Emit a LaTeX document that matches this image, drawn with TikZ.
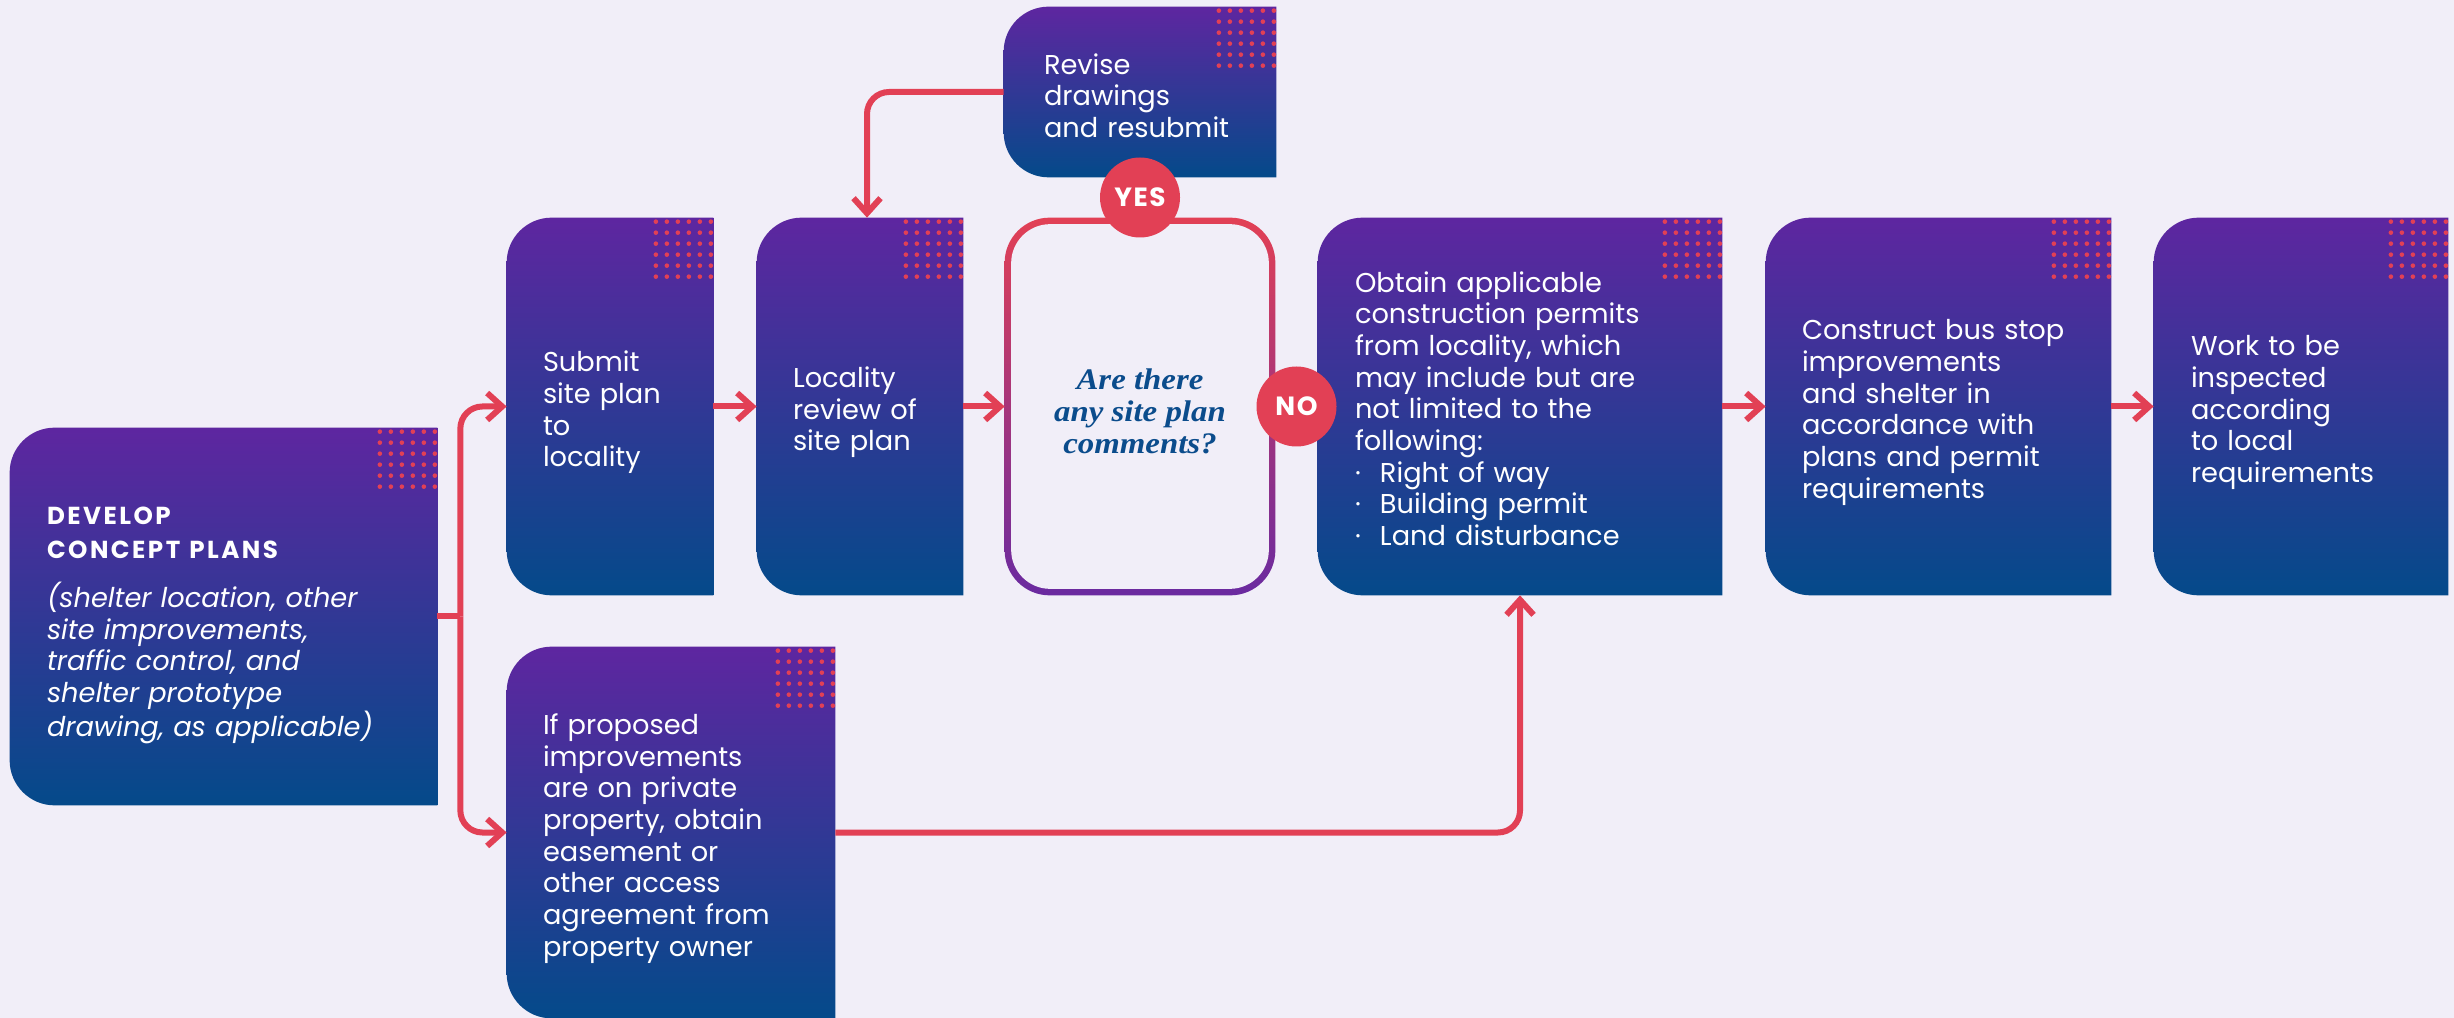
\documentclass[tikz,border=0pt]{standalone}
\usepackage{fontspec}
\setmainfont{Poppins}
\newfontfamily\qfont[FakeStretch=1.1]{Liberation Serif}
\usetikzlibrary{arrows.meta, positioning, calc, backgrounds}

\definecolor{pagebg}{HTML}{F1EEF8}
\definecolor{topviolet}{HTML}{5E26A0}
\definecolor{bottomblue}{HTML}{044A8A}
\definecolor{flowred}{HTML}{E24055}
\definecolor{qblue}{HTML}{0B4C8C}
\definecolor{rimviolet}{HTML}{6A2AA0}

% one pixel of the layout
\newcommand{\pix}{0.2mm}

\tikzstyle{stepbox} = [rectangle, inner sep=0pt]
\tikzstyle{steptext} = [anchor=west, yshift=-1.2mm, inner sep=0pt, align=left, text=white, font=\fontsize{15.5}{18}\selectfont]
\tikzstyle{decision} = [rectangle, inner sep=0pt]
\tikzstyle{decisiontext} = [inner sep=0pt, align=center, text=qblue, font=\qfont\bfseries\itshape\fontsize{17}{18.2}\selectfont]
\tikzstyle{badge} = [circle, fill=flowred, text=white, minimum size=16mm, inner sep=0pt, font=\bfseries\addfontfeature{LetterSpace=6}\fontsize{15}{16}\selectfont]
\tikzstyle{redline} = [draw=flowred, line width=1.2mm]
\tikzstyle{connector} = [redline, -{Straight Barb[length=3mm, width=5.4mm]}]

% gradient card with rounded left side and dotted corner
\newcommand{\stepfill}[1]{%
  \shade[top color=topviolet, bottom color=bottomblue]
    (#1.north east) -- ([xshift=9mm]#1.north west)
    arc[start angle=90, end angle=180, radius=9mm]
    -- ([yshift=9mm]#1.south west)
    arc[start angle=180, end angle=270, radius=9mm]
    -- (#1.south east) -- cycle;
  \foreach \i in {0,...,5}
    \foreach \j in {0,...,5}
      \fill[flowred] ([xshift=-2.5*\pix-11*\i*\pix, yshift=-4*\pix-11*\j*\pix]#1.north east) circle[radius=2.3*\pix];
}
\newcommand{\bul}{\makebox[5mm][l]{\textperiodcentered}}

\begin{document}
\begin{tikzpicture}[x=0.2mm, y=-0.2mm]

  \useasboundingbox (0,0) rectangle (2454,1018);

  % Cards
  \node (develop) at (223.5,616.5) [stepbox, minimum width=427*\pix, minimum height=377*\pix] {};
  \node (submit) at (610,406.5) [stepbox, minimum width=206*\pix, minimum height=377*\pix] {};
  \node (review) at (860,406.5) [stepbox, minimum width=206*\pix, minimum height=377*\pix] {};
  \node (revise) at (1140,92) [stepbox, minimum width=272*\pix, minimum height=170*\pix] {};
  \node (question) at (1140,406.5) [decision, minimum width=270*\pix, minimum height=377*\pix] {};
  \node (obtain) at (1520,406.5) [stepbox, minimum width=404*\pix, minimum height=377*\pix] {};
  \node (build) at (1938.5,406.5) [stepbox, minimum width=345*\pix, minimum height=377*\pix] {};
  \node (inspect) at (2301,406.5) [stepbox, minimum width=294*\pix, minimum height=377*\pix] {};
  \node (easement) at (671,832.5) [stepbox, minimum width=328*\pix, minimum height=371*\pix] {};

  % Card texts
  \node (developtext) at ([xshift=37*\pix]develop.west) [steptext, yshift=-0.6mm, text width=380*\pix]
    {{\bfseries\addfontfeature{LetterSpace=10}\fontsize{14}{19.3}\selectfont DEVELOP\\CONCEPT PLANS\par}
     \vspace{10pt}
     {\itshape (shelter location, other\\site improvements,\\traffic control, and\\shelter prototype\\drawing, as applicable)\par}};
  \node (submittext) at ([xshift=36*\pix]submit.west) [steptext, text width=166*\pix] {Submit\\site plan\\to\\locality};
  \node (reviewtext) at ([xshift=36*\pix]review.west) [steptext, text width=166*\pix] {Locality\\review of\\site plan};
  \node (questiontext) at ([yshift=-1mm]question.center) [decisiontext] {Are there\\any site plan\\comments?};
  \node (revisetext) at ([xshift=40*\pix, yshift=0.5mm]revise.west) [steptext, text width=228*\pix] {Revise\\drawings\\and resubmit};
  \node (obtaintext) at ([xshift=37*\pix]obtain.west) [steptext, yshift=0.8mm, text width=364*\pix]
    {Obtain applicable\\construction permits\\from locality, which\\may include but are\\not limited to the\\following:\\
     \bul Right of way\\
     \bul Building permit\\
     \bul Land disturbance};
  \node (buildtext) at ([xshift=36*\pix]build.west) [steptext, text width=305*\pix] {Construct bus stop\\improvements\\and shelter in\\accordance with\\plans and permit\\requirements};
  \node (inspecttext) at ([xshift=37*\pix]inspect.west) [steptext, text width=254*\pix] {Work to be\\inspected\\according\\to local\\requirements};
  \node (easementtext) at ([xshift=36*\pix]easement.west) [steptext, text width=280*\pix] {If proposed\\improvements\\are on private\\property, obtain\\easement or\\other access\\agreement from\\property owner};

  % Split after the concept plans
  \coordinate (split) at ([xshift=23*\pix]develop.east);
  \draw[redline] (develop.east) -- (split);
  \draw[connector, rounded corners=4.4mm] (split) |- (submit.west);
  \draw[connector, rounded corners=4.4mm] (split) |- (easement.west);

  % Main row
  \draw[connector] (submit) -- (review);
  \draw[connector] (review) -- (question);
  \draw[connector] (obtain) -- (build);
  \draw[connector] (build) -- (inspect);

  % Loop back and side branch
  \draw[connector, rounded corners=4.4mm] (revise.west) -| ([xshift=7*\pix]review.north);
  \draw[connector, rounded corners=4.4mm] (easement.east) -| (obtain.south);

  % Answers
  \node (yes) at ($(revise.south)!0.5!(question.north)$) [badge] {YES};
  \node (no) at ($(question.east)!0.5!(obtain.west)$) [badge] {NO};

  % Background
  \begin{pgfonlayer}{background}
    \fill[pagebg] (0,0) rectangle (2454,1018);
    \foreach \card in {develop,submit,review,revise,obtain,build,inspect,easement}
      {\stepfill{\card}}
    \shade[top color=flowred, bottom color=rimviolet, rounded corners=9mm] (question.north west) rectangle (question.south east);
    \fill[pagebg, rounded corners=7.8mm] ([shift={(1.3mm,-1.3mm)}]question.north west) rectangle ([shift={(-1.3mm,1.3mm)}]question.south east);
  \end{pgfonlayer}

\end{tikzpicture}
\end{document}
